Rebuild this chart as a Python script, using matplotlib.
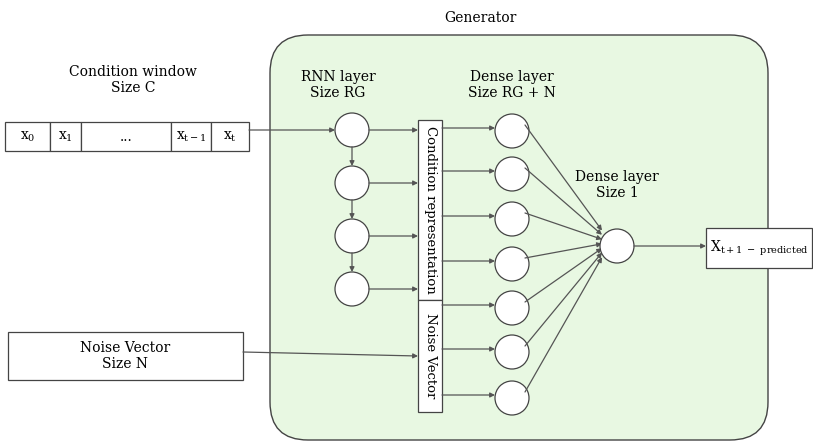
import matplotlib.pyplot as plt
from matplotlib.patches import FancyBboxPatch, Rectangle, Circle

plt.rcParams['font.family'] = ['DejaVu Serif']
plt.rcParams['mathtext.fontset'] = 'dejavuserif'

W, H = 813, 447
# diagram content
window_labels = [r'x$_\mathrm{0}$', r'x$_\mathrm{1}$', '...', r'x$_\mathrm{t-1}$', r'x$_\mathrm{t}$']
window_edges = [5, 50, 81, 171, 211, 249]
rnn_y = [130, 183, 236, 289]
dense_y = [131, 174, 219, 264, 308, 352, 398]
rnn_x, dense_x, out_x, out_y = 352, 512, 617, 246
R = 17
col_edge = '#555555'

fig = plt.figure(figsize=(W / 100, H / 100), dpi=100)
ax = fig.add_axes([0, 0, 1, 1])
ax.set_xlim(0, W)
ax.set_ylim(H, 0)
ax.axis('off')

def arrow(x0, y0, x1, y1):
    ax.annotate('', xy=(x1, y1), xytext=(x0, y0),
                arrowprops=dict(arrowstyle='-|>', color=col_edge, lw=0.9,
                                mutation_scale=7, shrinkA=0, shrinkB=0))

ax.add_patch(FancyBboxPatch((270, 35), 498, 405, boxstyle='round,pad=0,rounding_size=38',
                            fc='#e8f8e2', ec='#444444', lw=1))
ax.text(480, 18, 'Generator', ha='center', va='center', fontsize=10)

ax.text(133, 80, 'Condition window\nSize C', ha='center', va='center', fontsize=10, linespacing=1.2)
for i, lab in enumerate(window_labels):
    x0, x1 = window_edges[i], window_edges[i + 1]
    ax.add_patch(Rectangle((x0, 122), x1 - x0, 29, fc='white', ec='#444444', lw=0.9))
    ax.text((x0 + x1) / 2, 137, lab, ha='center', va='center', fontsize=10)
arrow(249, 130, rnn_x - R, 130)

ax.text(rnn_x - 14, 85, 'RNN layer\nSize RG', ha='center', va='center', fontsize=10, linespacing=1.2)
ax.text(dense_x, 85, 'Dense layer\nSize RG + N', ha='center', va='center', fontsize=10, linespacing=1.2)
ax.text(out_x, 185, 'Dense layer\nSize 1', ha='center', va='center', fontsize=10, linespacing=1.2)

for i, y in enumerate(rnn_y):
    ax.add_patch(Circle((rnn_x, y), R, fc='white', ec='#444444', lw=0.9, zorder=3))
    arrow(rnn_x + R, y, 418, y)
    if i < len(rnn_y) - 1:
        arrow(rnn_x, y + R, rnn_x, rnn_y[i + 1] - R)

ax.add_patch(Rectangle((418, 120), 24, 180, fc='white', ec='#444444', lw=0.9))
ax.add_patch(Rectangle((418, 300), 24, 112, fc='white', ec='#444444', lw=0.9))
ax.text(430, 210, 'Condition representation', rotation=-90, ha='center', va='center', fontsize=9.5)
ax.text(430, 356, 'Noise Vector', rotation=-90, ha='center', va='center', fontsize=9.5)

for y in dense_y:
    ax.add_patch(Circle((dense_x, y), R, fc='white', ec='#444444', lw=0.9, zorder=3))
    arrow(442, y - 3, dense_x - R, y - 3)
    arrow(dense_x + 13, y - 6, out_x - 15, out_y - 4 + (y - out_y) * 0.1)

ax.add_patch(Circle((out_x, out_y), R, fc='white', ec='#444444', lw=0.9, zorder=3))
arrow(out_x + R, out_y, 706, out_y)
ax.add_patch(Rectangle((706, 228), 106, 40, fc='white', ec='#444444', lw=0.9))
ax.text(710, 248, r'X$_\mathrm{t+1\ -\ predicted}$', ha='left', va='center', fontsize=10)

ax.add_patch(Rectangle((8, 332), 235, 48, fc='white', ec='#444444', lw=0.9))
ax.text(125, 356, 'Noise Vector\nSize N', ha='center', va='center', fontsize=10, linespacing=1.2)
arrow(243, 352, 418, 356)

fig.savefig('out.png', dpi=100)
